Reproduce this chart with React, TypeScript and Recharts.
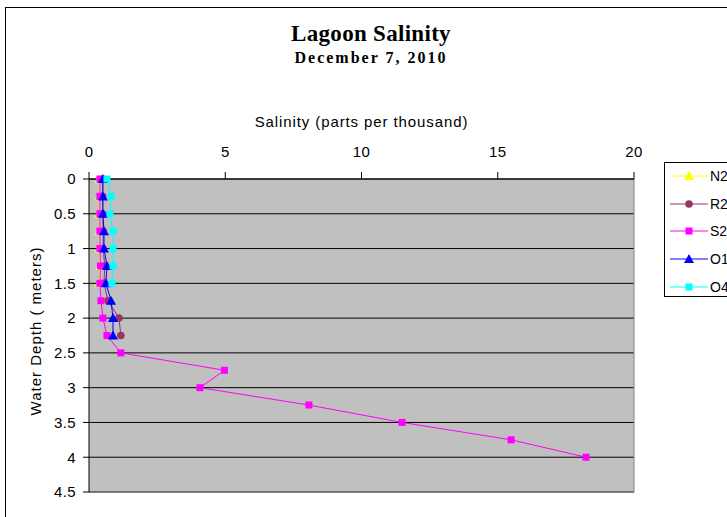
import React from "react";
import { ScatterChart, Scatter, XAxis, YAxis, CartesianGrid, ReferenceLine } from "recharts";

// depth samples in metres (every 0.25 m)
const depths = [0, 0.25, 0.5, 0.75, 1, 1.25, 1.5, 1.75, 2, 2.25, 2.5, 2.75, 3, 3.25, 3.5, 3.75, 4];

// salinity (ppt) by station
const n2Salinity = [0.38, 0.38, 0.38, 0.38, 0.38, 0.4, 0.38];
const r2Salinity = [0.5, 0.5, 0.5, 0.52, 0.52, 0.58, 0.55, 0.7, 1.1, 1.17];
const s2Salinity = [0.4, 0.4, 0.4, 0.4, 0.4, 0.42, 0.4, 0.44, 0.51, 0.66, 1.17, 4.97, 4.07, 8.07, 11.49, 15.49, 18.24];
const o1Salinity = [0.51, 0.51, 0.51, 0.55, 0.55, 0.66, 0.62, 0.81, 0.88, 0.88];
const o4Salinity = [0.66, 0.81, 0.77, 0.88, 0.88, 0.88, 0.84];

const xTicks = [0, 5, 10, 15, 20];
const yTicks = [0, 0.5, 1, 1.5, 2, 2.5, 3, 3.5, 4, 4.5];

const toPoints = (vals: number[]) => vals.map((v, i) => ({ salinity: v, depth: depths[i] }));

type Marker = "triangle" | "circle" | "square";

const series: { name: string; color: string; marker: Marker; values: number[] }[] = [
    { name: "N2", color: "#ffff00", marker: "triangle", values: n2Salinity },
    { name: "R2", color: "#993366", marker: "circle", values: r2Salinity },
    { name: "S2", color: "#ff00ff", marker: "square", values: s2Salinity },
    { name: "O1", color: "#0000ff", marker: "triangle", values: o1Salinity },
    { name: "O4", color: "#00ffff", marker: "square", values: o4Salinity },
];

function MarkerGlyph({ cx, cy, marker, color }: { cx: number; cy: number; marker: Marker; color: string }) {
    if (marker === "square") return <rect x={cx - 3.5} y={cy - 3.5} width={7} height={7} fill={color} />;
    if (marker === "circle") return <circle cx={cx} cy={cy} r={3.8} fill={color} />;
    return <polygon points={`${cx},${cy - 5} ${cx + 5},${cy + 4} ${cx - 5},${cy + 4}`} fill={color} />;
}

const font = "'Liberation Sans', Arial, sans-serif";
const serif = "'Liberation Serif', 'Times New Roman', serif";
const tickStyle = { fill: "#000", fontSize: 15, fontFamily: font, letterSpacing: 0.4 };

export default function App() {
    return (
        <div style={{ position: "fixed", left: 0, top: 0, width: 727, height: 517, overflow: "hidden", background: "#fff" }}>
            <div style={{ position: "absolute", left: 5, top: 7, width: 900, height: 700, border: "1px solid #000" }} />
            <div style={{ position: "absolute", left: 0, width: 742, top: 21, textAlign: "center", fontFamily: serif, fontWeight: "bold", fontSize: 23, letterSpacing: 0.3, color: "#000" }}>
                Lagoon Salinity
            </div>
            <div style={{ position: "absolute", left: 0, width: 742, top: 49, textAlign: "center", fontFamily: serif, fontWeight: "bold", fontSize: 16, letterSpacing: 2, color: "#000" }}>
                December 7, 2010
            </div>
            <div style={{ position: "absolute", left: 89, width: 545, top: 113, textAlign: "center", fontFamily: font, fontSize: 15, letterSpacing: 0.9, color: "#000" }}>
                Salinity (parts per thousand)
            </div>
            <div style={{ position: "absolute", left: 35, top: 331, transform: "translate(-50%, -50%) rotate(-90deg)", whiteSpace: "nowrap", fontFamily: font, fontSize: 15, letterSpacing: 1, color: "#000" }}>
                Water Depth ( meters)
            </div>
            <div style={{ position: "absolute", left: 0, top: 0 }}>
                <ScatterChart width={800} height={517} margin={{ top: 149, right: 166, bottom: 25, left: 29 }}>
                    <CartesianGrid vertical={false} stroke="#000" fill="#c0c0c0" fillOpacity={1} />
                    <XAxis
                        type="number"
                        dataKey="salinity"
                        orientation="top"
                        domain={[0, 20]}
                        ticks={xTicks}
                        height={30}
                        tick={tickStyle}
                        tickLine={{ stroke: "#000" }}
                        axisLine={{ stroke: "#000" }}
                        tickSize={7}
                        tickMargin={15}
                    />
                    <YAxis
                        type="number"
                        dataKey="depth"
                        reversed
                        domain={[0, 4.5]}
                        ticks={yTicks}
                        width={60}
                        tick={tickStyle}
                        tickLine={{ stroke: "#000" }}
                        axisLine={{ stroke: "#000" }}
                        tickSize={6}
                        tickMargin={7}
                    />
                    <ReferenceLine x={20} stroke="#808080" />
                    <ReferenceLine y={4.5} stroke="#808080" />
                    {series.map((s) => (
                        <Scatter
                            key={s.name}
                            name={s.name}
                            data={toPoints(s.values)}
                            line={{ stroke: s.color, strokeWidth: 1 }}
                            lineType="joint"
                            isAnimationActive={false}
                            shape={(p: any) => <MarkerGlyph cx={p.cx} cy={p.cy} marker={s.marker} color={s.color} />}
                        />
                    ))}
                </ScatterChart>
            </div>
            <div style={{ position: "absolute", left: 664, top: 162, width: 120, height: 133, border: "1px solid #000", background: "#fff" }}>
                {series.map((s, i) => (
                    <div key={s.name} style={{ position: "absolute", left: 5, top: 4 + i * 27.7, height: 18, display: "flex", alignItems: "center" }}>
                        <svg width={40} height={18}>
                            <line x1={0} y1={9} x2={38} y2={9} stroke={s.color} strokeWidth={1} />
                            <MarkerGlyph cx={19} cy={9} marker={s.marker} color={s.color} />
                        </svg>
                        <span style={{ fontFamily: font, fontSize: 14, color: "#000" }}>{s.name}</span>
                    </div>
                ))}
            </div>
        </div>
    );
}
